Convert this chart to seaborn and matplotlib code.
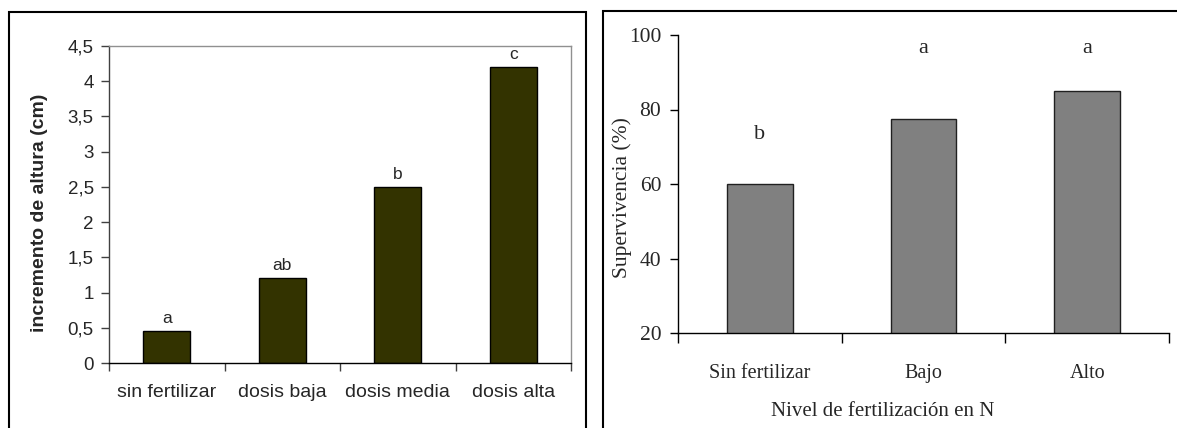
import matplotlib
matplotlib.use("Agg")
import matplotlib.pyplot as plt
from matplotlib.patches import Rectangle
import seaborn as sns
import pandas as pd

# Height increment by fertilization dose
dose_labels = ["sin fertilizar", "dosis baja", "dosis media", "dosis alta"]
height_increment = [0.45, 1.2, 2.5, 4.2]
height_letters = ["a", "ab", "b", "c"]
height_ticks = [0, 0.5, 1, 1.5, 2, 2.5, 3, 3.5, 4, 4.5]
height_tick_labels = ["0", "0,5", "1", "1,5", "2", "2,5", "3", "3,5", "4", "4,5"]

# Survival by nitrogen fertilization level
level_labels = ["Sin fertilizar", "Bajo", "Alto"]
survival = [60, 77.5, 85]
survival_letters = ["b", "a", "a"]
survival_letter_y = [72, 95.2, 95.2]
survival_ticks = [20, 40, 60, 80, 100]

sns.set_style("ticks")
plt.rcParams["font.family"] = ["Liberation Sans", "DejaVu Sans"]

W, H = 1177, 428
fig = plt.figure(figsize=(W / 100, H / 100), dpi=100)
fig.patch.set_facecolor("white")


def px_axes(x0, x1, ytop, ybot):
    return fig.add_axes([x0 / W, (H - ybot) / H, (x1 - x0) / W, (ybot - ytop) / H])


# Panel frames
fig.patches.append(Rectangle((9 / W, -0.05), (586 - 9) / W, (H - 12) / H + 0.05,
                             transform=fig.transFigure, fill=False,
                             edgecolor="black", linewidth=1.5, zorder=0))
fig.patches.append(Rectangle((603 / W, -0.05), 0.6, (H - 11) / H + 0.05,
                             transform=fig.transFigure, fill=False,
                             edgecolor="black", linewidth=1.5, zorder=0))

# ---- Left chart ----
ax1 = px_axes(109, 571, 46, 363)
df1 = pd.DataFrame({"dosis": dose_labels, "incremento": height_increment})
sns.barplot(data=df1, x="dosis", y="incremento", ax=ax1, color="#333300",
            saturation=1, edgecolor="black", linewidth=1, width=0.41)
ax1.set_ylim(0, 4.5)
ax1.set_xlim(-0.5, len(dose_labels) - 0.5)
ax1.set_yticks(height_ticks)
ax1.set_yticklabels(height_tick_labels, fontsize=13.5)
ax1.set_xticks([i - 0.5 for i in range(len(dose_labels) + 1)])
ax1.set_xticklabels([""] * (len(dose_labels) + 1))
ax1.set_xticks(range(len(dose_labels)), minor=True)
ax1.set_xticklabels(dose_labels, minor=True, fontsize=14)
ax1.tick_params(axis="x", which="major", length=6, width=1, color="#404040", direction="out")
ax1.tick_params(axis="x", which="minor", length=0, pad=15)
ax1.tick_params(axis="y", length=6, width=1, color="#404040", direction="out", pad=5)
ax1.set_xlabel("")
ax1.set_ylabel("incremento de altura (cm)", fontsize=14, fontweight="bold")
ax1.yaxis.set_label_coords(-0.133, 0.473)
for side in ("top", "right"):
    ax1.spines[side].set_color("#909090")
    ax1.spines[side].set_linewidth(1)
ax1.spines["left"].set_color("#404040")
ax1.spines["left"].set_linewidth(1)
ax1.spines["bottom"].set_color("black")
ax1.spines["bottom"].set_linewidth(1)
for i, (v, t) in enumerate(zip(height_increment, height_letters)):
    ax1.annotate(t, (i, v), xytext=(0, 6), textcoords="offset points",
                 ha="center", va="baseline", fontsize=12.5)

# ---- Right chart ----
serif = ["Liberation Serif", "DejaVu Serif"]
ax2 = px_axes(678, 1169, 35, 333)
df2 = pd.DataFrame({"nivel": level_labels, "supervivencia": survival})
sns.barplot(data=df2, x="nivel", y="supervivencia", ax=ax2, color="#808080",
            saturation=1, edgecolor="#202020", linewidth=1, width=0.40)
ax2.set_ylim(20, 100)
ax2.set_xlim(-0.5, len(level_labels) - 0.5)
ax2.set_yticks(survival_ticks)
ax2.set_yticklabels([str(t) for t in survival_ticks], fontsize=15.5, family=serif)
ax2.set_xticks([i - 0.5 for i in range(len(level_labels) + 1)])
ax2.set_xticklabels([""] * (len(level_labels) + 1))
ax2.set_xticks(range(len(level_labels)), minor=True)
ax2.set_xticklabels(level_labels, minor=True, fontsize=14.5, family=serif)
ax2.tick_params(axis="x", which="major", length=7, width=1, color="black", direction="out")
ax2.tick_params(axis="x", which="minor", length=0, pad=22)
ax2.tick_params(axis="y", length=6, width=1, color="black", direction="out", pad=6)
ax2.set_xlabel("Nivel de fertilización en N", fontsize=15, family=serif)
ax2.xaxis.set_label_coords(0.4175, -0.232)
ax2.set_ylabel("Supervivencia (%)", fontsize=15.5, family=serif)
ax2.yaxis.set_label_coords(-0.094, 0.453)
ax2.spines["top"].set_visible(False)
ax2.spines["right"].set_visible(False)
for side in ("left", "bottom"):
    ax2.spines[side].set_color("black")
    ax2.spines[side].set_linewidth(1)
for i, (y, t) in enumerate(zip(survival_letter_y, survival_letters)):
    ax2.text(i, y, t, ha="center", va="baseline", fontsize=16, family=serif)

fig.savefig("out.png", dpi=100)
